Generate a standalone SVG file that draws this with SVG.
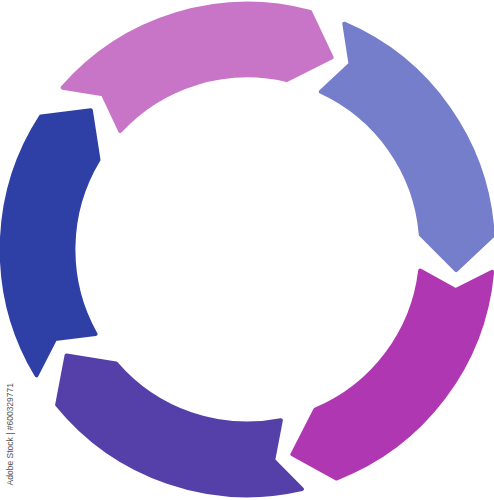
<svg xmlns="http://www.w3.org/2000/svg" width="494" height="500" viewBox="0 0 494 500">
<style>
.seg{stroke-width:4;stroke-linejoin:round}
.wm{font-family:"Liberation Sans",Arial,sans-serif;font-size:8.5px;fill:#555}
</style>
<rect width="494" height="500" fill="#fff"/>
<g id="seg-pink"><path class="seg" fill="#C875C8" stroke="#C875C8" d="M 62.66 87.67 A 245 245 0 0 1 310.24 11.99 L 331.61 57.42 L 286.80 80.07 A 173 173 0 0 0 120.17 131.01 L 102.85 94.17 Z"/></g>
<g id="seg-lavender"><path class="seg" fill="#747ECB" stroke="#747ECB" d="M 344.28 23.71 A 245 245 0 0 1 492.77 235.78 L 456.17 270.15 L 420.78 234.52 A 173 173 0 0 0 320.84 91.79 L 350.52 63.94 Z"/></g>
<g id="seg-magenta"><path class="seg" fill="#B037B2" stroke="#B037B2" d="M 492.15 271.78 A 245 245 0 0 1 336.34 478.53 L 292.35 454.34 L 315.29 409.68 A 173 173 0 0 0 420.16 270.52 L 455.82 290.14 Z"/></g>
<g id="seg-purple"><path class="seg" fill="#553FA9" stroke="#553FA9" d="M 301.92 489.05 A 245 245 0 0 1 57.13 404.77 L 66.55 355.45 L 116.11 363.47 A 173 173 0 0 0 280.87 420.20 L 273.23 460.19 Z"/></g>
<g id="seg-blue"><path class="seg" fill="#2E3FA6" stroke="#2E3FA6" d="M 36.49 375.29 A 245 245 0 0 1 41.00 116.43 L 90.81 110.14 L 98.51 159.77 A 173 173 0 0 0 95.47 333.99 L 55.08 339.07 Z"/></g>
<g id="connectors"></g>
<text class="wm" transform="translate(13,383) rotate(-90)" text-anchor="end">Adobe Stock | #600329771</text>
</svg>
